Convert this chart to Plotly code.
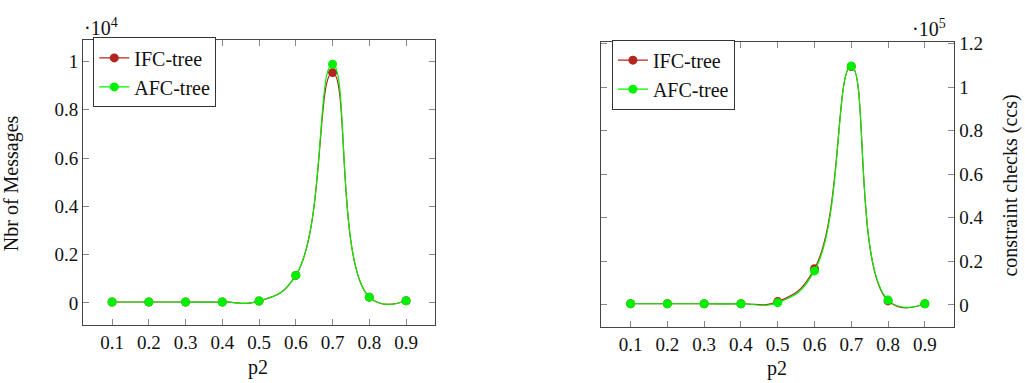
import plotly.graph_objects as go

p2 = [0.1, 0.2, 0.3, 0.4, 0.5, 0.6, 0.7, 0.8, 0.9]

msg_ifc = [40, 40, 40, 40, 80, 1140, 9540, 240, 90]
msg_afc = [40, 40, 40, 40, 80, 1140, 9890, 240, 90]

ccs_ifc = [500, 500, 500, 500, 1500, 16600, 109500, 1800, 500]
ccs_afc = [500, 500, 500, 500, 1000, 15600, 109700, 2200, 500]

x_ticks = [0.1, 0.2, 0.3, 0.4, 0.5, 0.6, 0.7, 0.8, 0.9]
x_ticktext = ["0.1", "0.2", "0.3", "0.4", "0.5", "0.6", "0.7", "0.8", "0.9"]
msg_ticklabels = ["0", "0.2", "0.4", "0.6", "0.8", "1"]
msg_scale = 1e4
ccs_ticklabels = ["0", "0.2", "0.4", "0.6", "0.8", "1", "1.2"]
ccs_scale = 1e5

RED = "#b3261e"
GREEN = "#00f000"
FONT = "Liberation Serif"
FS = 20

fig = go.Figure()

def add_series(x, y, name, color, xa, ya):
    fig.add_trace(go.Scatter(
        x=x, y=y, name=name, mode="lines+markers",
        line=dict(color=color, width=1.2, shape="spline", smoothing=1.3),
        marker=dict(color=color, size=9, symbol="circle"),
        xaxis=xa, yaxis=ya, showlegend=True,
        legend="legend" if xa == "x" else "legend2",
    ))

add_series(p2, msg_ifc, "IFC-tree", RED, "x", "y")
add_series(p2, msg_afc, "AFC-tree", GREEN, "x", "y")
add_series(p2, ccs_ifc, "IFC-tree", RED, "x2", "y2")
add_series(p2, ccs_afc, "AFC-tree", GREEN, "x2", "y2")

axis_common = dict(
    showline=True, linecolor="#444", linewidth=1.2, mirror="allticks",
    ticks="inside", ticklen=6, tickcolor="#888", tickwidth=1,
    showgrid=False, zeroline=False,
    tickfont=dict(family=FONT, size=19, color="#111"),
)

msg_tickvals = [float(t) * msg_scale for t in msg_ticklabels]
ccs_tickvals = [float(t) * ccs_scale for t in ccs_ticklabels]

fig.update_layout(
    width=1025, height=383,
    margin=dict(l=0, r=0, t=0, b=0),
    paper_bgcolor="white", plot_bgcolor="white",
    font=dict(family=FONT, size=FS, color="#111"),
    xaxis=dict(domain=[0.081, 0.4245], range=[0.021, 0.979],
               tickvals=x_ticks, ticktext=x_ticktext, anchor="y", **axis_common),
    yaxis=dict(domain=[0.154, 0.9165], range=[-930, 10880],
               tickvals=msg_tickvals, ticktext=msg_ticklabels, anchor="x",
               side="left", **axis_common),
    xaxis2=dict(domain=[0.5865, 0.931], range=[0.02, 0.98],
                tickvals=x_ticks, ticktext=x_ticktext, anchor="y2", **axis_common),
    yaxis2=dict(domain=[0.149, 0.912], range=[-10300, 120800],
                tickvals=ccs_tickvals, ticktext=ccs_ticklabels, anchor="x2",
                side="right", **axis_common),
    legend=dict(x=0.091, y=0.924, xanchor="left", yanchor="top",
                bordercolor="#333", borderwidth=1, bgcolor="white",
                font=dict(family=FONT, size=FS), tracegroupgap=0),
    legend2=dict(x=0.597, y=0.918, xanchor="left", yanchor="top",
                 bordercolor="#333", borderwidth=1, bgcolor="white",
                 font=dict(family=FONT, size=FS), tracegroupgap=0),
    annotations=[
        dict(text="Nbr of Messages", x=0.012, y=0.535, xref="paper", yref="paper",
             xanchor="center", yanchor="middle",
             textangle=-90, showarrow=False, font=dict(family=FONT, size=FS)),
        dict(text="p2", x=0.252, y=0.042, xref="paper", yref="paper",
             xanchor="center", yanchor="middle",
             showarrow=False, font=dict(family=FONT, size=FS)),
        dict(text="·10<sup>4</sup>", x=0.080, y=0.953, xref="paper", yref="paper",
             xanchor="left", yanchor="middle", showarrow=False,
             font=dict(family=FONT, size=FS)),
        dict(text="p2", x=0.758, y=0.04, xref="paper", yref="paper",
             xanchor="center", yanchor="middle",
             showarrow=False, font=dict(family=FONT, size=FS)),
        dict(text="constraint checks (ccs)", x=0.986, y=0.527, xref="paper", yref="paper",
             xanchor="center", yanchor="middle",
             textangle=-90, showarrow=False, font=dict(family=FONT, size=FS)),
        dict(text="·10<sup>5</sup>", x=0.925, y=0.948, xref="paper", yref="paper",
             xanchor="right", yanchor="middle", showarrow=False,
             font=dict(family=FONT, size=FS)),
    ],
)

fig.write_html("out.html")
